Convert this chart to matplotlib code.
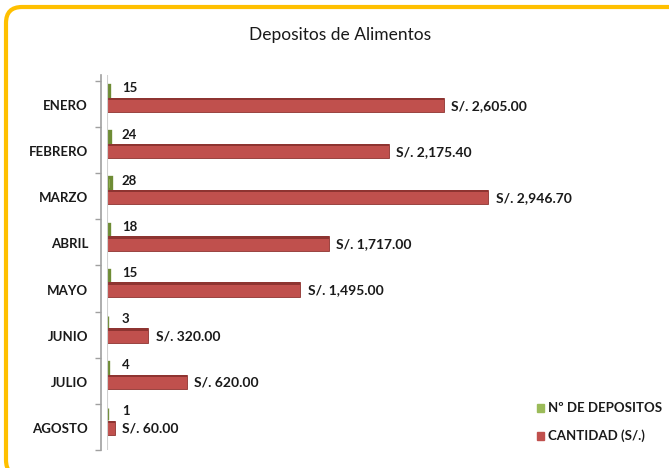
import matplotlib.pyplot as plt
import numpy as np
from matplotlib.patches import FancyBboxPatch

# datos del grafico
meses = ['ENERO', 'FEBRERO', 'MARZO', 'ABRIL', 'MAYO', 'JUNIO', 'JULIO', 'AGOSTO']
num_depositos = [15, 24, 28, 18, 15, 3, 4, 1]
cantidad = [2605.00, 2175.40, 2946.70, 1717.00, 1495.00, 320.00, 620.00, 60.00]
serie_nombres = ['Nº DE DEPOSITOS', 'CANTIDAD (S/.)']

verde = '#9BBB59'
verde_osc = '#6E8C35'
rojo = '#C0504D'
rojo_osc = '#8E3431'
fuente = ['Lato', 'DejaVu Sans']

W, H = 669, 468
fig = plt.figure(figsize=(W / 100, H / 100), dpi=100)

# borde naranja redondeado (en pixeles, se sale por la derecha y abajo)
borde = FancyBboxPatch((6, -8), 690, H - 7 + 8,
                       boxstyle='round,pad=0,rounding_size=16',
                       transform=None, facecolor='none',
                       edgecolor='#FFC000', linewidth=3, clip_on=False, zorder=5)
fig.patches.append(borde)

fig.text(340 / W, 1 - 35 / H, 'Depositos de Alimentos', ha='center', va='center',
         fontsize=12.5, family=fuente, color='#1a1a1a')

# eje en pixeles
x0, x1, y0, y1 = 107, 560, 75, 450
ax = fig.add_axes([x0 / W, 1 - y1 / H, (x1 - x0) / W, (y1 - y0) / H])
ax.set_xlim(0, 3500)
ax.set_ylim(7.47, -0.63)
ax.patch.set_alpha(0)

y = np.arange(len(meses))
y_verde = y - 0.28
y_rojo = y + 0.02

ax.barh(y_verde, num_depositos, height=0.26, color=verde, edgecolor=verde_osc, linewidth=2.4)
ax.barh(y_rojo, cantidad, height=0.31, color=rojo, edgecolor=rojo_osc, linewidth=0.6)
# franja superior oscura para efecto 3D
ax.barh(y_rojo - 0.13, cantidad, height=0.05, color=rojo_osc, linewidth=0)

for yi, n in zip(y_verde, num_depositos):
    ax.text(115, yi - 0.06, str(n), ha='left', va='center', fontsize=9.5,
            fontweight='bold', family=fuente, color='#1a1a1a')
for yi, c in zip(y_rojo, cantidad):
    ax.text(c + 55, yi + 0.02, 'S/. {:,.2f}'.format(c), ha='left', va='center',
            fontsize=10, fontweight='bold', family=fuente, color='#1a1a1a')

# etiquetas de meses como texto (negrita)
ax.set_yticks(y)
ax.set_yticklabels([])
ax.tick_params(axis='y', length=0)
for yi, mes in zip(y, meses):
    ax.annotate(mes, xy=(0, yi), xycoords=('axes fraction', 'data'),
                xytext=(-19, -2), textcoords='offset pixels', ha='right', va='center',
                fontsize=9.5, fontweight='bold', family=fuente, color='#1a1a1a')

ax.set_yticks(np.arange(len(meses) + 1) - 0.5, minor=True)
ax.tick_params(axis='y', which='minor', length=4, color='#A0A0A0', width=1)
ax.set_xticks([])
for lado in ['top', 'right', 'bottom']:
    ax.spines[lado].set_visible(False)
ax.spines['left'].set_position(('outward', 4))
ax.spines['left'].set_color('#A0A0A0')
ax.spines['left'].set_linewidth(1.2)
ax.axvline(0, color='#D0D0D0', linewidth=0.8)

# leyenda
leg_y = [408, 436]
for ly, nombre, col in zip(leg_y, serie_nombres, [verde, rojo]):
    fig.patches.append(plt.Rectangle((537 / W, 1 - (ly + 4) / H), 7 / W, 8 / H,
                                     transform=fig.transFigure, color=col))
    fig.text(548 / W, 1 - ly / H, nombre, ha='left', va='center', fontsize=9.5,
             fontweight='bold', family=fuente, color='#1a1a1a')

fig.savefig('out.png', dpi=100)
